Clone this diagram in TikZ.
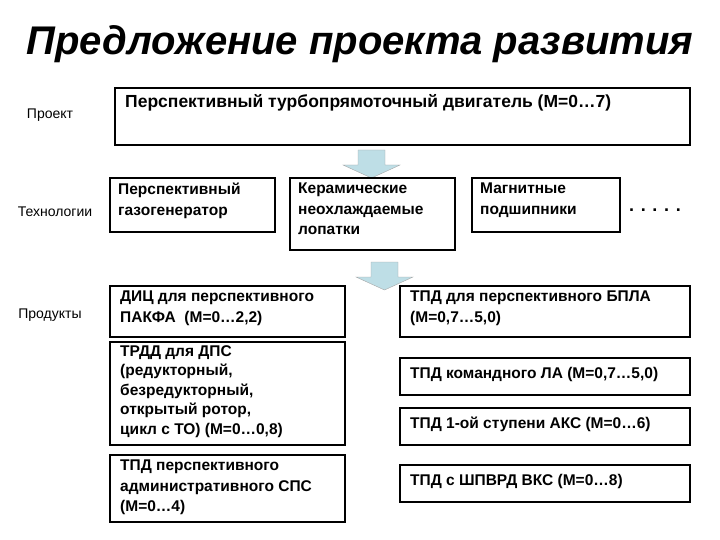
\documentclass[tikz,border=0pt]{standalone}
\usepackage{fontspec}
\setmainfont{Liberation Sans}
\usetikzlibrary{shapes.arrows}
\definecolor{arr}{RGB}{190,222,230}
\begin{document}
\begin{tikzpicture}[x=1pt,y=-1pt,
  bx/.style={draw,line width=1.1pt},
  tx/.style={anchor=north west,align=left,font=\bfseries\fontsize{15.5}{20.5}\selectfont,inner sep=0pt},
  side/.style={font=\fontsize{14}{16}\selectfont},
  barr/.style={fill=arr,draw=gray!70}]
\useasboundingbox (0,0) rectangle (720,540);
\node (title) at (360,44) {\bfseries\itshape\fontsize{40}{44}\selectfont Предложение проекта развития};
\node[side] (lp) at (50,115) {Проект};
\node[side] (lt) at (55,212) {Технологии};
\node[side] (lpr) at (50,315) {Продукты};
% project
\draw[bx] (115,88) rectangle (690,145);
\node[tx,font=\bfseries\fontsize{17.5}{20}\selectfont] (proj) at (125,94) {Перспективный турбопрямоточный двигатель (М=0…7)};
% arrow1
\draw[barr] (358,150) -- (385,150) -- (385,165) -- (400,165) -- (371.5,178) -- (343,165) -- (358,165) -- cycle;
% tech
\draw[bx] (110,178) rectangle (275,232);
\node[tx] (t1) at (118,183) {Перспективный\\газогенератор};
\draw[bx] (290,178) rectangle (455,250);
\node[tx] (t2) at (298,183) {Керамические\\неохлаждаемые\\лопатки};
\draw[bx] (472,178) rectangle (620,232);
\node[tx] (t3) at (480,183) {Магнитные\\подшипники};
\node[font=\bfseries\fontsize{18}{20}\selectfont] (dots) at (655,210) {. . . . .};
% arrow2
\draw[barr] (371,262) -- (398,262) -- (398,277) -- (413,277) -- (384.5,290) -- (356,277) -- (371,277) -- cycle;
% products left
\draw[bx] (110,286) rectangle (345,337);
\node[tx] (p1) at (120,291) {ДИЦ для перспективного\\ПАКФА \ (М=0…2,2)};
\draw[bx] (110,342) rectangle (345,445);
\node[tx,font=\bfseries\fontsize{15.5}{19.5}\selectfont] (p2) at (120,345) {ТРДД для ДПС\\(редукторный,\\безредукторный,\\открытый ротор,\\цикл с ТО) (М=0…0,8)};
\draw[bx] (110,455) rectangle (345,522);
\node[tx] (p3) at (120,460) {ТПД перспективного\\административного СПС\\(М=0…4)};
% products right
\draw[bx] (400,286) rectangle (690,337);
\node[tx] (r1) at (410,291) {ТПД для перспективного БПЛА\\(М=0,7…5,0)};
\draw[bx] (400,358) rectangle (690,395);
\node[tx] (r2) at (410,367) {ТПД командного ЛА (М=0,7…5,0)};
\draw[bx] (400,408) rectangle (690,445);
\node[tx] (r3) at (410,417) {ТПД 1-ой ступени АКС (М=0…6)};
\draw[bx] (400,465) rectangle (690,502);
\node[tx] (r4) at (410,474) {ТПД с ШПВРД ВКС (М=0…8)};
\end{tikzpicture}
\end{document}
